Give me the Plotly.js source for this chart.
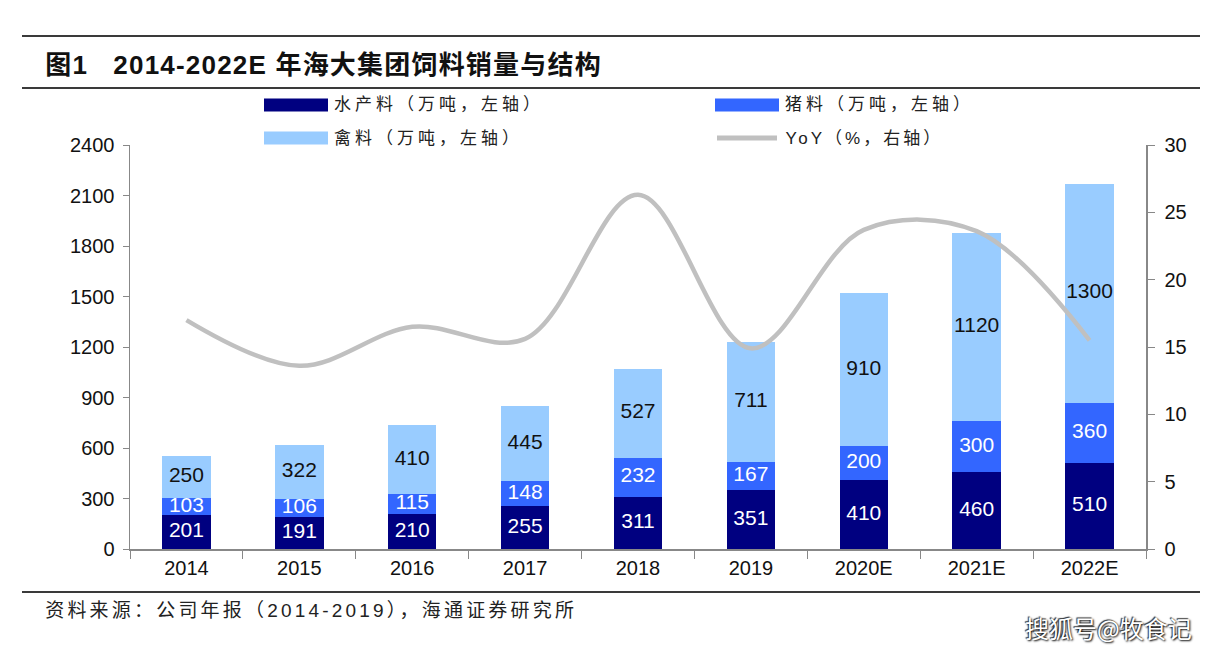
<!DOCTYPE html>
<html>
<head>
<meta charset="utf-8">
<script src="https://cdn.plot.ly/plotly-3.0.1.min.js"></script>
<style>
html,body{margin:0;padding:0;background:#fff;}
#chart{width:1223px;height:652px;}
</style>
</head>
<body>
<div id="chart"></div>
<script>
// ---- data ----
const years = ["2014", "2015", "2016", "2017", "2018", "2019", "2020E", "2021E", "2022E"];
const aquaFeed = [201, 191, 210, 255, 311, 351, 410, 460, 510];   // 水产料
const pigFeed = [103, 106, 115, 148, 232, 167, 200, 300, 360];    // 猪料
const poultryFeed = [250, 322, 410, 445, 527, 711, 910, 1120, 1300]; // 禽料
const yoy = [17.0, 13.6, 16.5, 15.6, 26.3, 14.9, 23.7, 23.6, 15.5]; // YoY %
const seriesNames = ["水产料（万吨，左轴）", "猪料（万吨，左轴）", "禽料（万吨，左轴）", "YoY（%，右轴）"];
const leftTicks = [0, 300, 600, 900, 1200, 1500, 1800, 2100, 2400];
const rightTicks = [0, 5, 10, 15, 20, 25, 30];
const titleText = "图1   2014-2022E 年海大集团饲料销量与结构";
const sourceText = "资料来源：公司年报（2014-2019），海通证券研究所";
const watermark = "搜狐号@牧食记";

// ---- geometry helpers (pixel -> paper) ----
const W = 1223, H = 652;
const M = {l: 130, r: 77, t: 145, b: 103};
const PW = W - M.l - M.r, PH = H - M.t - M.b;
const px = x => (x - M.l) / PW;
const py = y => (H - M.b - y) / PH;

const colors = ["#000080", "#3366FF", "#99CCFF", "#C0C0C0"];
const numFont = "Liberation Sans, Arial, sans-serif";
const mixFont = "Liberation Sans, Noto Sans CJK SC, sans-serif";

const bars = [aquaFeed, pigFeed, poultryFeed].map((vals, i) => ({
  type: "bar", x: years, y: vals, name: seriesNames[i],
  marker: {color: colors[i]}, width: 0.43, hoverinfo: "skip", showlegend: false
}));

// label positions: middle of each stacked segment
const base1 = aquaFeed.map(v => v / 2);
const base2 = aquaFeed.map((v, i) => v + pigFeed[i] / 2);
const base3 = aquaFeed.map((v, i) => v + pigFeed[i] + poultryFeed[i] / 2);
const labelTrace = (ys, vals, col) => ({
  type: "scatter", mode: "text", x: years, y: ys, text: vals.map(String),
  textposition: "middle center", textfont: {family: numFont, size: 21, color: col},
  hoverinfo: "skip", showlegend: false, cliponaxis: false
});

const line = {
  type: "scatter", mode: "lines", x: years, y: yoy, yaxis: "y2", name: seriesNames[3],
  line: {color: colors[3], width: 4.5, shape: "spline", smoothing: 1.0},
  hoverinfo: "skip", showlegend: false
};

const traces = [...bars,
  labelTrace(base1, aquaFeed, "#FFFFFF"),
  labelTrace(base2, pigFeed, "#FFFFFF"),
  labelTrace(base3, poultryFeed, "#111111"),
  line];

// letter spacing per annotation (applied via CSS after draw, compensated with xshift)
const spacings = [];
function leftText(text, x, y, size, ls, extra) {
  spacings.push(ls);
  return Object.assign({xref: "paper", yref: "paper", x: px(x), y: py(y), xanchor: "left", yanchor: "middle",
    showarrow: false, text: text, xshift: ls * [...text.replace(/<[^>]+>/g, "")].length / 2,
    font: {family: mixFont, size: size, color: "#222"}}, extra || {});
}

const legendItems = [
  {x0: 264, x1: 328, y: 105, color: colors[0], text: seriesNames[0], type: "rect", ls: 4},
  {x0: 715, x1: 779, y: 105, color: colors[1], text: seriesNames[1], type: "rect", ls: 4},
  {x0: 264, x1: 328, y: 138, color: colors[2], text: seriesNames[2], type: "rect", ls: 4},
  {x0: 715, x1: 779, y: 138, color: colors[3], text: seriesNames[3], type: "line", ls: 3}
];

const shapes = [
  {type: "line", xref: "paper", yref: "paper", x0: px(22), x1: px(1200), y0: py(36), y1: py(36), line: {color: "#3a3a3a", width: 2}},
  {type: "line", xref: "paper", yref: "paper", x0: px(22), x1: px(1200), y0: py(88), y1: py(88), line: {color: "#3a3a3a", width: 2}},
  {type: "line", xref: "paper", yref: "paper", x0: px(22), x1: px(1200), y0: py(592), y1: py(592), line: {color: "#3a3a3a", width: 2}}
];
const annotations = [
  leftText("<b>" + titleText + "</b>", 43, 65, 26, 1.2, {font: {family: mixFont, size: 26, color: "#111"}}),
  leftText(sourceText, 43, 610, 19, 3.2),
];
spacings.push(0);
annotations.push({xref: "paper", yref: "paper", x: px(1108), y: py(627), xanchor: "center", yanchor: "middle", showarrow: false,
   text: watermark, font: {family: "Noto Sans CJK SC, sans-serif", size: 24, color: "#FFFFFF", shadow: "1px 1px 2px #000, -1px -1px 1px #333"}});
legendItems.forEach(it => {
  if (it.type === "rect") {
    shapes.push({type: "rect", xref: "paper", yref: "paper", x0: px(it.x0), x1: px(it.x1), y0: py(it.y - 6.5), y1: py(it.y + 6.5),
      fillcolor: it.color, line: {width: 0}});
  } else {
    shapes.push({type: "line", xref: "paper", yref: "paper", x0: px(it.x0 + 2), x1: px(it.x1 - 2), y0: py(it.y), y1: py(it.y),
      line: {color: it.color, width: 5}});
  }
  annotations.push(leftText(it.text, it.x1 + 4, it.y, 17, it.ls));
});

const layout = {
  width: W, height: H, margin: M, barmode: "stack", showlegend: false,
  paper_bgcolor: "#fff", plot_bgcolor: "#fff",
  font: {family: numFont, size: 20, color: "#111"},
  xaxis: {type: "category", tickson: "boundaries", ticks: "outside", ticklen: 8, tickcolor: "#888",
    showline: true, linecolor: "#888", linewidth: 1.5, showgrid: false, zeroline: false,
    tickfont: {family: numFont, size: 20, color: "#111"}, fixedrange: true},
  yaxis: {range: [0, 2400], tickvals: leftTicks, ticktext: leftTicks.map(String), ticks: "outside", ticklen: 6, tickcolor: "#888",
    showline: true, linecolor: "#888", linewidth: 1.5, showgrid: false, zeroline: false,
    tickfont: {family: numFont, size: 20, color: "#111"}, ticklabelstandoff: 4},
  yaxis2: {range: [0, 30], tickvals: rightTicks, ticktext: rightTicks.map(String), overlaying: "y", side: "right",
    ticks: "outside", ticklen: 7, tickcolor: "#888", showline: true, linecolor: "#888", linewidth: 1.5,
    showgrid: false, zeroline: false, tickfont: {family: numFont, size: 20, color: "#111"}, ticklabelstandoff: 6},
  shapes: shapes, annotations: annotations
};

// CSS letter-spacing per annotation index
const css = spacings.map((ls, i) => ls ? `.annotation[data-index="${i}"] text{letter-spacing:${ls}px;}` : "").join("\n");
const st = document.createElement("style");
st.textContent = css;
document.head.appendChild(st);

Plotly.newPlot("chart", traces, layout, {displayModeBar: false, staticPlot: true});
</script>
</body>
</html>
